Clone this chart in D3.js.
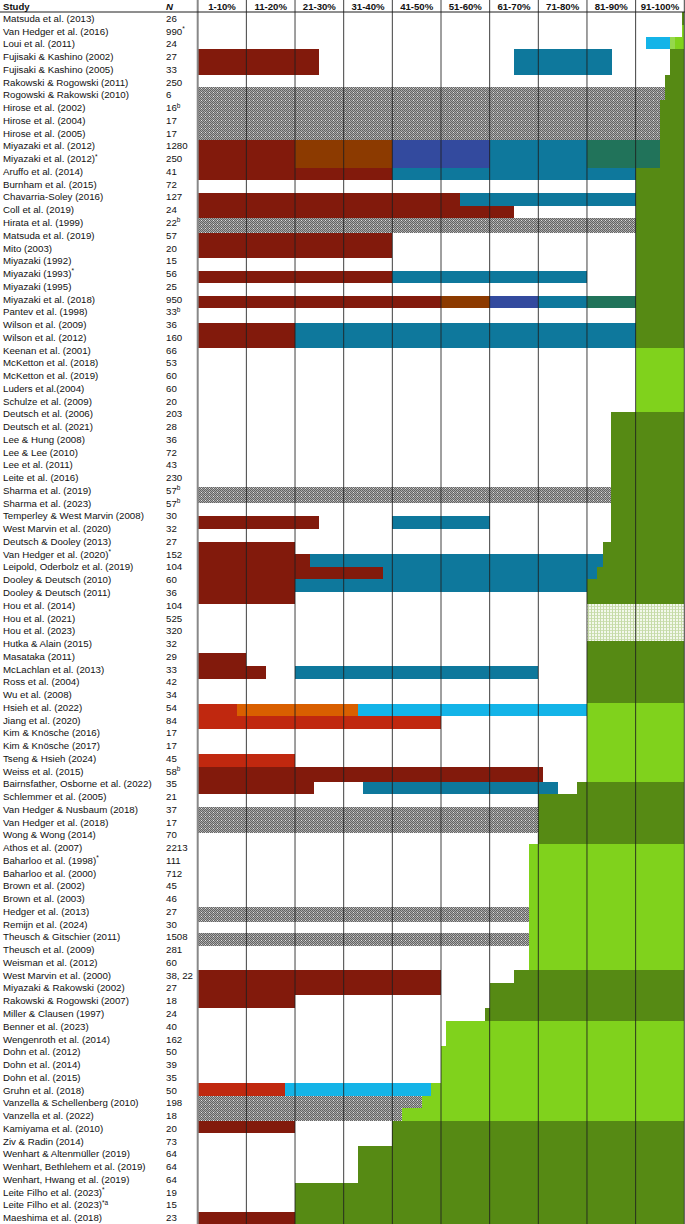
<!DOCTYPE html>
<html>
<head>
<meta charset="utf-8">
<script src="https://cdn.jsdelivr.net/npm/d3@7"></script>
<style>
html,body{margin:0;padding:0;background:#fff;}
svg{display:block;}
text{font-family:"Liberation Sans",Arial,Helvetica,sans-serif;fill:#111;}
</style>
</head>
<body>
<svg id="chart" width="685" height="1224"></svg>
<script>
// ---------- DATA ----------
const studies = [
"Matsuda et al. (2013)","Van Hedger et al. (2016)","Loui et al. (2011)","Fujisaki & Kashino (2002)","Fujisaki & Kashino (2005)",
"Rakowski & Rogowski (2011)","Rogowski & Rakowski (2010)","Hirose et al. (2002)","Hirose et al. (2004)","Hirose et al. (2005)",
"Miyazaki et al. (2012)","Miyazaki et al. (2012)^*","Aruffo et al. (2014)","Burnham et al. (2015)","Chavarria-Soley (2016)",
"Coll et al. (2019)","Hirata et al. (1999)","Matsuda et al. (2019)","Mito (2003)","Miyazaki (1992)",
"Miyazaki (1993)^*","Miyazaki (1995)","Miyazaki et al. (2018)","Pantev et al. (1998)","Wilson et al. (2009)",
"Wilson et al. (2012)","Keenan et al. (2001)","McKetton et al. (2018)","McKetton et al. (2019)","Luders et al.(2004)",
"Schulze et al. (2009)","Deutsch et al. (2006)","Deutsch et al. (2021)","Lee & Hung (2008)","Lee & Lee (2010)",
"Lee et al. (2011)","Leite et al. (2016)","Sharma et al. (2019)","Sharma et al. (2023)","Temperley & West Marvin (2008)",
"West Marvin et al. (2020)","Deutsch & Dooley (2013)","Van Hedger et al. (2020)^*","Leipold, Oderbolz et al. (2019)","Dooley & Deutsch (2010)",
"Dooley & Deutsch (2011)","Hou et al. (2014)","Hou et al. (2021)","Hou et al. (2023)","Hutka & Alain (2015)",
"Masataka (2011)","McLachlan et al. (2013)","Ross et al. (2004)","Wu et al. (2008)","Hsieh et al. (2022)",
"Jiang et al. (2020)","Kim & Knösche (2016)","Kim & Knösche (2017)","Tseng & Hsieh (2024)","Weiss et al. (2015)",
"Bairnsfather, Osborne et al. (2022)","Schlemmer et al. (2005)","Van Hedger & Nusbaum (2018)","Van Hedger et al. (2018)","Wong & Wong (2014)",
"Athos et al. (2007)","Baharloo et al. (1998)^*","Baharloo et al. (2000)","Brown et al. (2002)","Brown et al. (2003)",
"Hedger et al. (2013)","Remijn et al. (2024)","Theusch & Gitschier (2011)","Theusch et al. (2009)","Weisman et al. (2012)",
"West Marvin et al. (2000)","Miyazaki & Rakowski (2002)","Rakowski & Rogowski (2007)","Miller & Clausen (1997)","Benner et al. (2023)",
"Wengenroth et al. (2014)","Dohn et al. (2012)","Dohn et al. (2014)","Dohn et al. (2015)","Gruhn et al. (2018)",
"Vanzella & Schellenberg (2010)","Vanzella et al. (2022)","Kamiyama et al. (2010)","Ziv & Radin (2014)","Wenhart & Altenmüller (2019)",
"Wenhart, Bethlehem et al. (2019)","Wenhart, Hwang et al. (2019)","Leite Filho et al. (2023)^*","Leite Filho et al. (2023)^*a","Maeshima et al. (2018)"
];

const sampleSizes = [
"26","990^*","24","27","33","250","6","16^b","17","17",
"1280","250","41","72","127","24","22^b","57","20","15",
"56","25","950","33^b","36","160","66","53","60","60",
"20","203","28","36","72","43","230","57^b","57^b","30",
"32","27","152","104","60","36","104","525","320","32",
"29","33","42","34","54","84","17","17","45","58^b",
"35","21","37","17","70","2213","111","712","45","46",
"27","30","1508","281","60","38, 22","27","18","24","40",
"162","50","39","35","50","198","18","20","73","64",
"64","64","19","15","23"
];

const columnLabels = ["1-10%","11-20%","21-30%","31-40%","41-50%","51-60%","61-70%","71-80%","81-90%","91-100%"];
const columnEdges = [0,10,20,30,40,50,60,70,80,90,100];

// segments: [rowStart, rowEnd, pctStart, pctEnd, colourKey]
const segments = [
[0,1.02,99.6,100,"DG"],
[1.02,2.0,99.6,100,"LG"],
[1.98,2.92,92.1,97.0,"S"],
[1.98,2.92,97.0,98.0,"LG2"],
[1.98,2.92,98.0,100,"LG"],
[2.92,4.94,0,25,"R"],
[2.92,4.94,65,85.1,"T"],
[2.92,4.94,97.1,100,"DG"],
[4.94,6.90,96.0,100,"DG"],
[5.90,6.90,0,96.0,"H"],
[6.90,12.20,95.0,100,"DG"],
[6.90,10.03,0,95.0,"H"],
[10.03,13.17,0,20,"R"],
[10.03,12.20,20,40,"O"],
[10.03,12.20,40,60,"B"],
[10.03,12.20,60,80,"T"],
[10.03,12.20,80,95,"G"],
[12.20,13.17,20,40,"R"],
[12.20,13.17,40,90,"T"],
[12.20,26.36,90,100,"DG"],
[14.16,15.18,0,54,"R"],
[14.16,15.18,54,90,"T"],
[15.18,16.17,0,65,"R"],
[16.17,17.35,0,90,"H"],
[17.35,19.31,0,40,"R"],
[20.28,21.27,0,40,"R"],
[20.28,21.27,40,80,"T"],
[22.26,23.22,0,50,"R"],
[22.26,23.22,50,60,"O"],
[22.26,23.22,60,70,"B"],
[22.26,23.22,70,80,"T"],
[22.26,23.22,80,90,"G"],
[24.40,26.36,0,20,"R"],
[24.40,26.36,20,90,"T"],
[26.36,31.33,90,100,"LG"],
[31.33,41.52,85,100,"DG"],
[37.21,38.46,0,85,"H"],
[39.50,40.55,0,25,"R"],
[39.50,40.55,40,60,"T"],
[41.52,46.43,0,20,"R"],
[41.52,43.48,83.2,100,"DG"],
[42.48,43.48,20,23.1,"R"],
[42.48,43.48,23.1,83.2,"T"],
[43.48,44.44,20,38,"R"],
[43.48,44.44,38,82.1,"T"],
[43.48,44.44,82.1,100,"DG"],
[44.44,45.49,20,80,"T"],
[44.44,46.43,80,100,"DG"],
[46.43,49.28,80,100,"P"],
[49.28,54.19,80,100,"DG"],
[50.27,52.29,0,10,"R"],
[51.27,52.29,10,14,"R"],
[51.27,52.29,20,70,"T"],
[54.24,55.18,0,8,"RO"],
[54.24,55.18,8,33,"OR"],
[54.24,55.18,33,80,"S"],
[54.19,60.33,80,100,"LG"],
[55.18,56.22,0,50,"RO"],
[58.16,59.15,0,20,"RO"],
[59.15,60.33,0,71,"R"],
[60.33,61.30,0,24,"R"],
[60.33,61.30,34,74,"T"],
[60.33,61.30,78,100,"DG"],
[61.30,65.24,70,100,"DG"],
[62.29,64.37,0,70,"H"],
[65.24,75.09,68,100,"LG"],
[70.18,71.30,0,68,"H"],
[72.17,73.18,0,68,"H"],
[75.09,76.09,65,100,"DG"],
[76.09,78.09,60,100,"DG"],
[75.09,77.05,0,50,"R"],
[77.05,78.09,0,20,"R"],
[78.09,79.06,59,100,"DG"],
[79.06,81.02,51,100,"LG"],
[81.02,83.97,50,100,"LG"],
[83.97,84.97,0,18,"RO"],
[83.97,84.97,18,48,"S"],
[83.97,84.97,48,100,"LG"],
[84.97,85.93,0,46,"H"],
[84.97,85.93,46,100,"LG"],
[85.93,86.90,0,42,"H"],
[85.93,86.90,42,100,"LG"],
[86.90,87.89,0,20,"R"],
[86.90,88.86,40,100,"DG"],
[88.86,91.81,33,100,"DG"],
[91.81,95,20,100,"DG"],
[94.04,95,0,20,"R"]
];

const palette = {
  R:"#821a0c", T:"#0e789c", O:"#8c3a00", B:"#334a9e", G:"#21735a",
  DG:"#568a14", LG:"#80d21c", LG2:"#96d84c", S:"#14b4e8", RO:"#c0280f", OR:"#d95f00",
  H:"url(#hatch)", P:"url(#dots)"
};

// ---------- DRAW ----------
const W = 685, H = 1224;
const svg = d3.select("#chart");
const x = d3.scaleLinear().domain([0,100]).range([197.7, 684.3]);
const y = d3.scaleLinear().domain([0, studies.length]).range([12, H]);

const defs = svg.append("defs");
const hp = defs.append("pattern").attr("id","hatch").attr("patternUnits","userSpaceOnUse")
  .attr("width",4).attr("height",4);
hp.append("rect").attr("width",4).attr("height",4).attr("fill","#a9a9a9");
[[0,0],[2,0],[1,1],[3,1],[0,2],[2,2],[1,3],[3,3]].forEach(([a,b])=>
  hp.append("rect").attr("x",a).attr("y",b).attr("width",1).attr("height",1).attr("fill","#646464"));
hp.append("rect").attr("x",1).attr("y",0).attr("width",1).attr("height",1).attr("fill","#e0e0e0");

const dp = defs.append("pattern").attr("id","dots").attr("patternUnits","userSpaceOnUse")
  .attr("width",3).attr("height",3);
dp.append("rect").attr("width",3).attr("height",3).attr("fill","#f3f8ec");
dp.append("rect").attr("width",3).attr("height",1).attr("fill","#cfe0b6");
dp.append("rect").attr("width",1).attr("height",3).attr("fill","#c6dba8");

// bars
svg.append("g").selectAll("rect").data(segments).join("rect")
  .attr("x", d => x(d[2]))
  .attr("y", d => y(d[0]))
  .attr("width", d => x(d[3]) - x(d[2]))
  .attr("height", d => y(d[1]) - y(d[0]))
  .attr("fill", d => palette[d[4]])
  .attr("shape-rendering","crispEdges");

// grid lines
svg.append("g").selectAll("line").data(columnEdges).join("line")
  .attr("x1", d => x(d)).attr("x2", d => x(d))
  .attr("y1", 0).attr("y2", H)
  .attr("stroke", d => d === 0 ? "#888" : "#1e1e1e")
  .attr("stroke-opacity", d => d === 0 ? 1 : 0.85)
  .attr("stroke-width", d => d === 0 ? 2 : 1);

svg.append("line").attr("x1",0).attr("x2",W).attr("y1",12).attr("y2",12)
  .attr("stroke","#1e1e1e").attr("stroke-width",1);

// header
const hdr = svg.append("g").attr("font-weight","bold").attr("font-size","9.6px");
hdr.append("text").attr("x",3).attr("y",9.6).text("Study");
hdr.append("text").attr("x",166).attr("y",9.6).attr("font-style","italic").text("N");
hdr.selectAll("text.col").data(columnLabels).join("text").attr("class","col")
  .attr("x",(d,i)=> x(i*10+5)).attr("y",9.6).attr("text-anchor","middle").text(d=>d);

// labels with superscripts
function addLabel(sel, str){
  const parts = str.split("^");
  sel.append("tspan").text(parts[0]);
  if (parts[1]) sel.append("tspan").attr("font-size","6.5px").attr("dy",-3.6).text(parts[1]);
}
const rows = svg.append("g").attr("font-size","9.7px");
studies.forEach((s,i)=>{
  const cy = y(i+0.5) + 3.5;
  addLabel(rows.append("text").attr("x",3).attr("y",cy), s);
  addLabel(rows.append("text").attr("x",166).attr("y",cy), sampleSizes[i]);
});
</script>
</body>
</html>
